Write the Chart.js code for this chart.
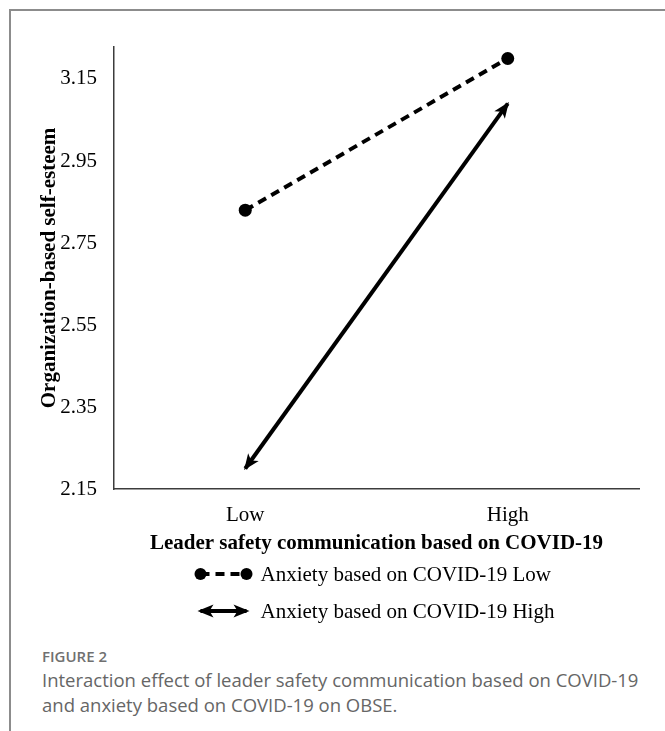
<!DOCTYPE html>
<html>
<head>
<meta charset="utf-8">
<script src="https://cdn.jsdelivr.net/npm/chart.js@4.4.1/dist/chart.umd.min.js"></script>
<style>
  html, body { margin: 0; padding: 0; background: #fff; }
  body { width: 665px; height: 731px; position: relative; overflow: hidden; }
  .frame {
    position: absolute; left: 9px; top: 9px; right: -10px; bottom: -10px;
    border-top: 2px solid #8c8c8c; border-left: 2px solid #8c8c8c;
  }
  #chart-box { position: absolute; left: 0; top: 0; width: 665px; height: 640px; }
  .caption {
    position: absolute; left: 42px; top: 645px; width: 620px;
    font-family: "Open Sans", sans-serif; color: #666;
  }
  .caption .fig { font-size: 15px; font-weight: 600; color: #707070; line-height: 22px; }
  .caption .txt { font-size: 18.5px; line-height: 25px; }
</style>
</head>
<body>
<div class="frame"></div>
<div id="chart-box"><canvas id="chart"></canvas></div>
<div class="caption">
  <div class="fig">FIGURE 2</div>
  <div class="txt">Interaction effect of leader safety communication based on COVID-19<br>and anxiety based on COVID-19 on OBSE.</div>
</div>
<script>
const categories = ['Low', 'High'];
const anxietyLow = [2.83, 3.20];
const anxietyHigh = [2.20, 3.09];
const yTickLabels = ['2.15', '2.35', '2.55', '2.75', '2.95', '3.15'];
const seriesNames = ['Anxiety based on COVID-19 Low', 'Anxiety based on COVID-19 High'];

const serif = '"Liberation Serif", "Times New Roman", serif';

function drawArrowHead(ctx, x, y, fromX, fromY) {
    // filled triangle with its tip at (x, y), pointing away from (fromX, fromY)
    const ang = Math.atan2(y - fromY, x - fromX);
    const len = 14, half = 6.5;
    ctx.save();
    ctx.translate(x, y);
    ctx.rotate(ang);
    ctx.beginPath();
    ctx.moveTo(2, 0);
    ctx.lineTo(-len, -half);
    ctx.lineTo(-len + 4, 0);
    ctx.lineTo(-len, half);
    ctx.closePath();
    ctx.fillStyle = '#000';
    ctx.fill();
    ctx.restore();
}

// arrows on both ends of the "High" line
const arrowPlugin = {
    id: 'arrows',
    afterDatasetsDraw(chart) {
        const ctx = chart.ctx;
        chart.data.datasets.forEach((ds, i) => {
            if (!ds.arrows) return;
            const pts = chart.getDatasetMeta(i).data;
            const a = pts[0], b = pts[pts.length - 1];
            drawArrowHead(ctx, a.x, a.y, b.x, b.y);
            drawArrowHead(ctx, b.x, b.y, a.x, a.y);
        });
    }
};

// legend drawn under the x axis title, one entry per line
const legendPlugin = {
    id: 'stackLegend',
    afterDraw(chart) {
        const ctx = chart.ctx;
        const area = chart.chartArea;
        const symW = 58, gap = 8;
        ctx.save();
        ctx.font = '21px ' + serif;
        const left = (area.left + area.right) / 2 - 182;
        chart.data.datasets.forEach((ds, i) => {
            const y = area.bottom + 85 + i * 37;
            const x0 = left + 6, x1 = left + symW - 6;
            ctx.strokeStyle = '#000';
            ctx.lineWidth = 4;
            ctx.setLineDash(ds.borderDash || []);
            ctx.beginPath();
            ctx.moveTo(x0, y);
            ctx.lineTo(x1, y);
            ctx.stroke();
            ctx.setLineDash([]);
            if (ds.arrows) {
                drawArrowHead(ctx, left + 5, y, x1, y);
                drawArrowHead(ctx, left + symW - 5, y, x0, y);
            } else {
                ctx.fillStyle = '#000';
                [x0, x1].forEach(px => {
                    ctx.beginPath();
                    ctx.arc(px, y, 6, 0, Math.PI * 2);
                    ctx.fill();
                });
            }
            ctx.fillStyle = '#000';
            ctx.textBaseline = 'middle';
            ctx.textAlign = 'left';
            ctx.fillText(ds.label, left + symW + gap, y + 1);
        });
        ctx.restore();
    }
};

new Chart(document.getElementById('chart'), {
    type: 'line',
    data: {
        labels: categories,
        datasets: [
            {
                label: seriesNames[0],
                data: anxietyLow,
                borderColor: '#000',
                backgroundColor: '#000',
                borderWidth: 4,
                borderDash: [9, 6],
                pointRadius: 6.5,
                pointHoverRadius: 6.5,
                pointBackgroundColor: '#000',
                pointBorderWidth: 0,
                clip: false
            },
            {
                label: seriesNames[1],
                data: anxietyHigh,
                borderColor: '#000',
                borderWidth: 4,
                pointRadius: 0,
                arrows: true,
                clip: false
            }
        ]
    },
    options: {
        responsive: true,
        maintainAspectRatio: false,
        animation: false,
        layout: { padding: { left: 0, top: 47, right: 26, bottom: 81 } },
        plugins: {
            legend: { display: false },
            tooltip: { enabled: false }
        },
        scales: {
            x: {
                offset: true,
                grid: { display: false },
                border: { display: true, color: '#3c3c3c', width: 1.5 },
                ticks: { color: '#000', font: { family: serif, size: 21 }, padding: 6 },
                title: {
                    display: true,
                    text: 'Leader safety communication based on COVID-19',
                    color: '#000',
                    font: { family: serif, size: 21, weight: 'bold' },
                    padding: { top: 0, bottom: 3 }
                },
                afterFit(scale) { scale.height = 70; }
            },
            y: {
                min: 2.15,
                max: 3.228,
                grid: { display: false },
                border: { display: true, color: '#3c3c3c', width: 1.5 },
                afterBuildTicks(scale) {
                    scale.ticks = yTickLabels.map(t => ({ value: Number(t) }));
                },
                ticks: {
                    color: '#000',
                    font: { family: serif, size: 21 },
                    padding: 9,
                    callback: (v, i) => yTickLabels[i]
                },
                title: {
                    display: true,
                    text: 'Organization-based self-esteem',
                    color: '#000',
                    font: { family: serif, size: 21, weight: 'bold' },
                    padding: { top: 37, bottom: 0 }
                },
                afterFit(scale) { scale.width = 114; }
            }
        }
    },
    plugins: [arrowPlugin, legendPlugin]
});
</script>
</body>
</html>
